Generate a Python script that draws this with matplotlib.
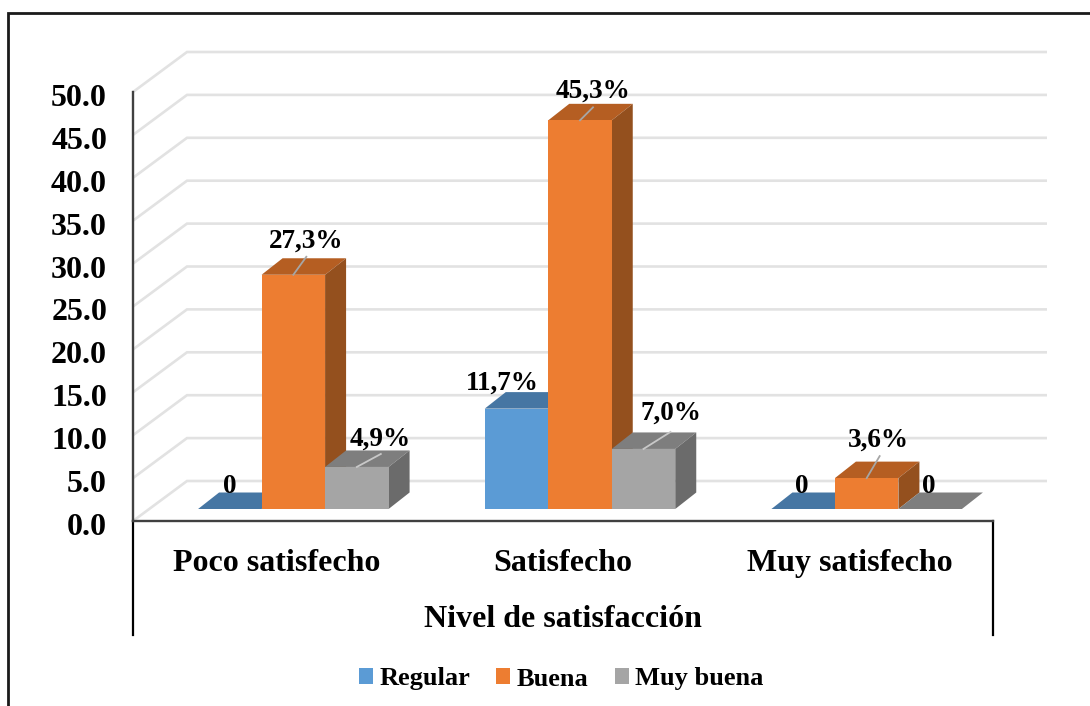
import matplotlib
matplotlib.use("Agg")
import matplotlib.pyplot as plt
from matplotlib.lines import Line2D
from matplotlib.patches import Patch, Polygon
from matplotlib.transforms import ScaledTranslation

plt.rcParams["font.family"] = ["Liberation Serif", "DejaVu Serif"]
plt.rcParams["font.weight"] = "bold"

categories = ["Poco satisfecho", "Satisfecho", "Muy satisfecho"]
series_names = ["Regular", "Buena", "Muy buena"]
regular = [0.0, 11.7, 0.0]
buena = [27.3, 45.3, 3.6]
muy_buena = [4.9, 7.0, 0.0]
regular_labels = ["0", "11,7%", "0"]
buena_labels = ["27,3%", "45,3%", "3,6%"]
muy_buena_labels = ["4,9%", "7,0%", "0"]
y_ticks = [0, 5, 10, 15, 20, 25, 30, 35, 40, 45, 50]
axis_title = "Nivel de satisfacción"

# Face colours per series: front, top, side
FACES = [("#5B9BD5", "#4676A3", "#3E6A94"),
         ("#ED7D31", "#B55E22", "#94501E"),
         ("#A5A5A5", "#7E7E7E", "#6B6B6B")]

W, H = 1090, 706
LEFT, RIGHT, Y0, Y50 = 133, 993, 521, 92
PX_X = (RIGHT - LEFT) / 3      # pixels per category
PX_Y = (Y0 - Y50) / 50         # pixels per value unit


def dx(px):
    return px / PX_X


def dy(px):
    return px / PX_Y


fig = plt.figure(figsize=(W / 100, H / 100), dpi=100, facecolor="white")
ax = fig.add_axes([LEFT / W, 1 - Y0 / H, (RIGHT - LEFT) / W, (Y0 - Y50) / H])
ax.set_xlim(0, 3)
ax.set_ylim(0, 50)
ax.patch.set_visible(False)

# Oblique projection of the chart box and of the bars
WALL_X, WALL_Y = dx(54), dy(40)
WALL_END = dx(54)
BAR_W = dx(63.5)
BAR_DX, BAR_DY = dx(21), dy(16.5)
BASE_Y = dy(12)
GROUP_SHIFT = dx(17)

# Gridlines: along the side wall, then across the back wall
for v in y_ticks:
    ax.plot([0, WALL_X, 3 + WALL_END], [v, v + WALL_Y, v + WALL_Y],
            color="#E2E2E2", lw=1.9, clip_on=False, zorder=1,
            solid_joinstyle="miter", solid_capstyle="butt")


def draw_bar(left, value, colours, z):
    front, top, side = colours
    b = BASE_Y
    t = BASE_Y + value
    r = left + BAR_W
    ax.add_patch(Polygon([(left, t), (r, t), (r + BAR_DX, t + BAR_DY), (left + BAR_DX, t + BAR_DY)],
                         closed=True, fc=top, ec="none", clip_on=False, zorder=z))
    if value > 0:
        ax.add_patch(Polygon([(r, b), (r + BAR_DX, b + BAR_DY), (r + BAR_DX, t + BAR_DY), (r, t)],
                             closed=True, fc=side, ec="none", clip_on=False, zorder=z))
        ax.add_patch(Polygon([(left, b), (r, b), (r, t), (left, t)],
                             closed=True, fc=front, ec="none", clip_on=False, zorder=z))


all_series = [regular, buena, muy_buena]
for c in range(len(categories)):
    centre = c + 0.5 + GROUP_SHIFT
    for s, values in enumerate(all_series):
        draw_bar(centre + (s - 1.5) * BAR_W, values[c], FACES[s], 3 + s)

# Value labels: text offset from the front-top centre of each bar, with optional leader
label_table = [
    (0, 0, regular_labels, (0, 22.5), None),
    (0, 1, buena_labels, (13, 33.5), (13, 18)),
    (0, 2, muy_buena_labels, (23, 27.5), (24, 13)),
    (1, 0, regular_labels, (-14, 25.5), None),
    (1, 1, buena_labels, (13, 29.5), (13, 13)),
    (1, 2, muy_buena_labels, (27, 35.5), (27, 17)),
    (2, 0, regular_labels, (-1, 22.5), None),
    (2, 1, buena_labels, (12, 37.5), (13, 22)),
    (2, 2, muy_buena_labels, (-1, 22.5), None),
]
for c, s, labels, (ox, oy), leader in label_table:
    cx = c + 0.5 + GROUP_SHIFT + (s - 1) * BAR_W
    top = BASE_Y + all_series[s][c]
    if leader:
        shade = "#A6A6A6" if s == 1 else "#C8C8C8"
        ax.plot([cx, cx + dx(leader[0])], [top, top + dy(leader[1])],
                color=shade, lw=1.3, clip_on=False, zorder=8)
    ax.text(cx + dx(ox), top + dy(oy), labels[c], ha="center", va="center",
            fontsize=19.6, color="black", clip_on=False, zorder=9)

# Axes: y ticks, category labels and the axis title
ax.set_yticks(y_ticks, [f"{v:.1f}" for v in y_ticks])
ax.set_xticks([0.5, 1.5, 2.5], categories)
ax.tick_params(axis="y", length=0, pad=18.7, labelsize=23)
ax.tick_params(axis="x", length=0, pad=20.5, labelsize=23)
tick_shift = ScaledTranslation(0, -6.5 / 100, fig.dpi_scale_trans)
for lab in ax.get_yticklabels():
    lab.set_verticalalignment("center")
    lab.set_transform(lab.get_transform() + tick_shift)
ax.set_xlabel(axis_title, fontsize=23, fontweight="bold", labelpad=19)

for name in ("top", "right"):
    ax.spines[name].set_visible(False)
for name in ("left", "bottom"):
    ax.spines[name].set_color("#404040")
    ax.spines[name].set_linewidth(1.7)
    ax.spines[name].set_zorder(10)

# Bracket lines closing the multi-level category area
for x in (0, 3):
    ax.plot([x, x], [0, -dy(114)], color="black", lw=1.6, clip_on=False, zorder=10)

# Legend
handles = [Patch(fc=FACES[i][0], ec="none", label=series_names[i]) for i in range(3)]
fig.legend(handles=handles, ncol=3, loc="center", bbox_to_anchor=(561 / W, 1 - 679 / H),
           frameon=False, fontsize=19, handlelength=0.53, handleheight=0.53,
           handletextpad=0.23, columnspacing=1.0, borderpad=0, borderaxespad=0)

# Open outer frame: top and left edges only
fig.add_artist(Line2D([8 / W, 8 / W, 1], [0, 1 - 13 / H, 1 - 13 / H],
                      transform=fig.transFigure, color="#1A1A1A", lw=2,
                      solid_joinstyle="miter"))

fig.savefig("out.png", dpi=100)
